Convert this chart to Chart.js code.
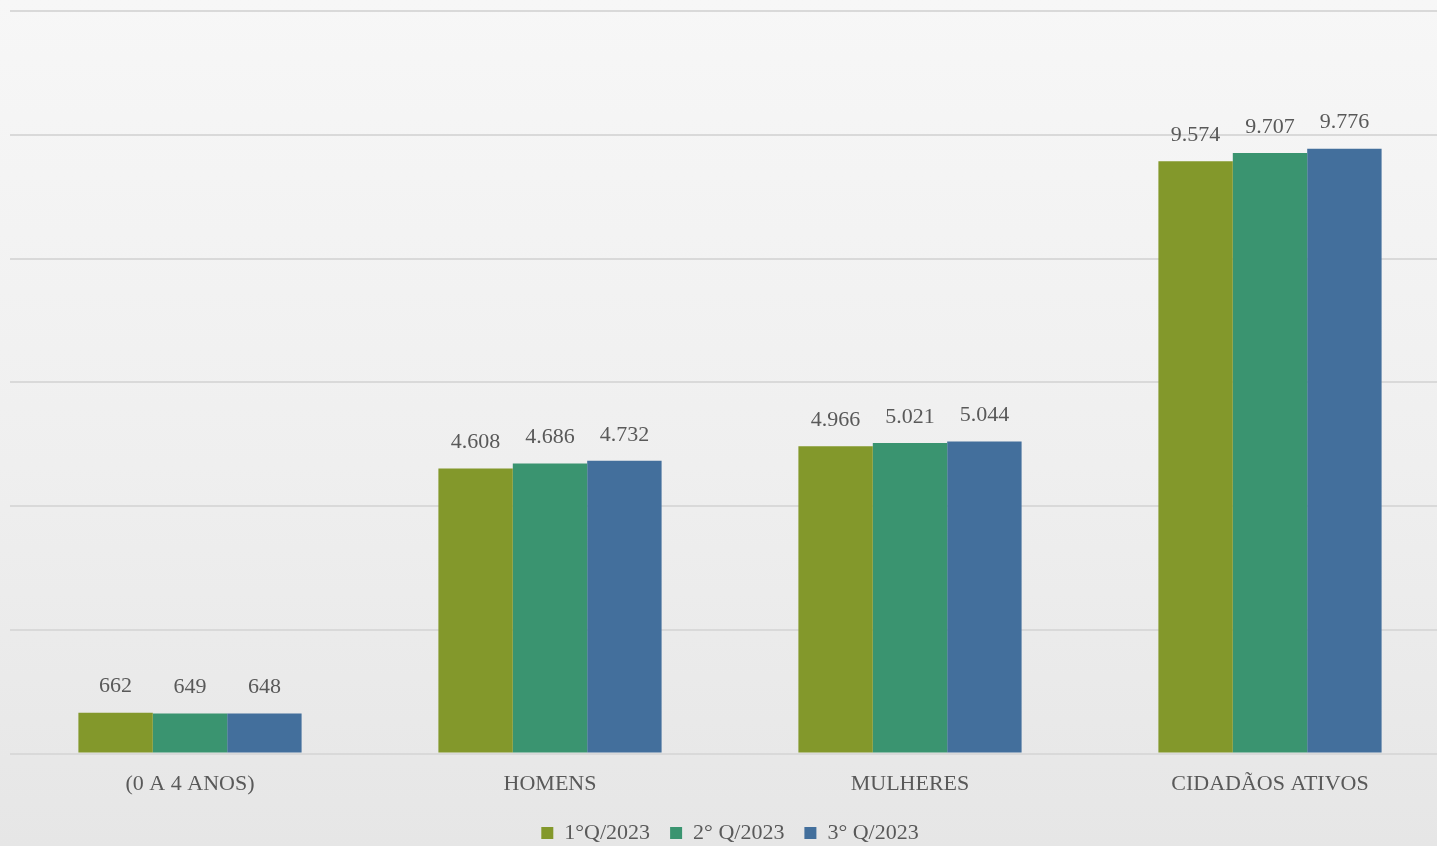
<!DOCTYPE html>
<html>
<head>
<meta charset="utf-8">
<script src="https://cdn.jsdelivr.net/npm/chart.js@4/dist/chart.umd.min.js"></script>
<style>
  html, body { margin: 0; padding: 0; overflow: hidden; }
  body {
    width: 1437px; height: 846px;
    background: linear-gradient(to bottom, #f7f7f7 0%, #efefef 55%, #e6e6e6 100%);
  }
  #wrap { position: relative; width: 1450px; height: 854px; }
</style>
</head>
<body>
<div id="wrap"><canvas id="grafico"></canvas></div>
<script>
// ==================== DADOS ====================
const categorias = ['(0 A 4 ANOS)', 'HOMENS', 'MULHERES', 'CIDADÃOS ATIVOS'];
const q1_2023 = [662, 4608, 4966, 9574];
const q2_2023 = [649, 4686, 5021, 9707];
const q3_2023 = [648, 4732, 5044, 9776];
const nomesSeries = ['1°Q/2023', '2° Q/2023', '3° Q/2023'];
const coresSeries = ['#83982b', '#3a9470', '#436f9c'];

const fonte = "'Liberation Serif', 'DejaVu Serif', serif";
const corTexto = '#595959';

// formato pt-BR: 9.574
function formatar(n) {
    return String(n).replace(/\B(?=(\d{3})+(?!\d))/g, '.');
}

// ==================== RÓTULOS SOBRE AS BARRAS ====================
const rotulosBarras = {
    id: 'rotulosBarras',
    afterDatasetsDraw(chart) {
        const ctx = chart.ctx;
        ctx.save();
        ctx.font = '22px ' + fonte;
        ctx.fillStyle = corTexto;
        ctx.textAlign = 'center';
        ctx.textBaseline = 'middle';
        chart.data.datasets.forEach((ds, i) => {
            chart.getDatasetMeta(i).data.forEach((bar, j) => {
                ctx.fillText(formatar(ds.data[j]), bar.x, bar.y - 26);
            });
        });
        ctx.restore();
    }
};

const series = [q1_2023, q2_2023, q3_2023];

new Chart(document.getElementById('grafico'), {
    type: 'bar',
    data: {
        labels: categorias,
        datasets: series.map((valores, i) => ({
            label: nomesSeries[i],
            data: valores,
            backgroundColor: coresSeries[i],
            borderWidth: 0,
            barPercentage: 1.0,
            categoryPercentage: 0.62
        }))
    },
    options: {
        responsive: true,
        maintainAspectRatio: false,
        animation: false,
        layout: { padding: { left: 10, right: 0, top: 11, bottom: 0 } },
        plugins: {
            legend: {
                display: true,
                position: 'bottom',
                labels: {
                    font: { family: fonte, size: 22 },
                    color: corTexto,
                    boxWidth: 12,
                    boxHeight: 12,
                    padding: 20
                }
            },
            tooltip: { enabled: false }
        },
        scales: {
            x: {
                grid: { display: false, drawTicks: false },
                border: { display: false },
                ticks: {
                    font: { family: fonte, size: 22 },
                    color: corTexto,
                    padding: 17
                },
                afterFit(axis) { axis.height -= 12; }
            },
            y: {
                min: 0,
                max: 12000,
                ticks: { display: false, stepSize: 2000 },
                border: { display: false },
                grid: { color: '#d9d9d9', lineWidth: 2, drawTicks: false }
            }
        }
    },
    plugins: [rotulosBarras]
});
</script>
</body>
</html>
